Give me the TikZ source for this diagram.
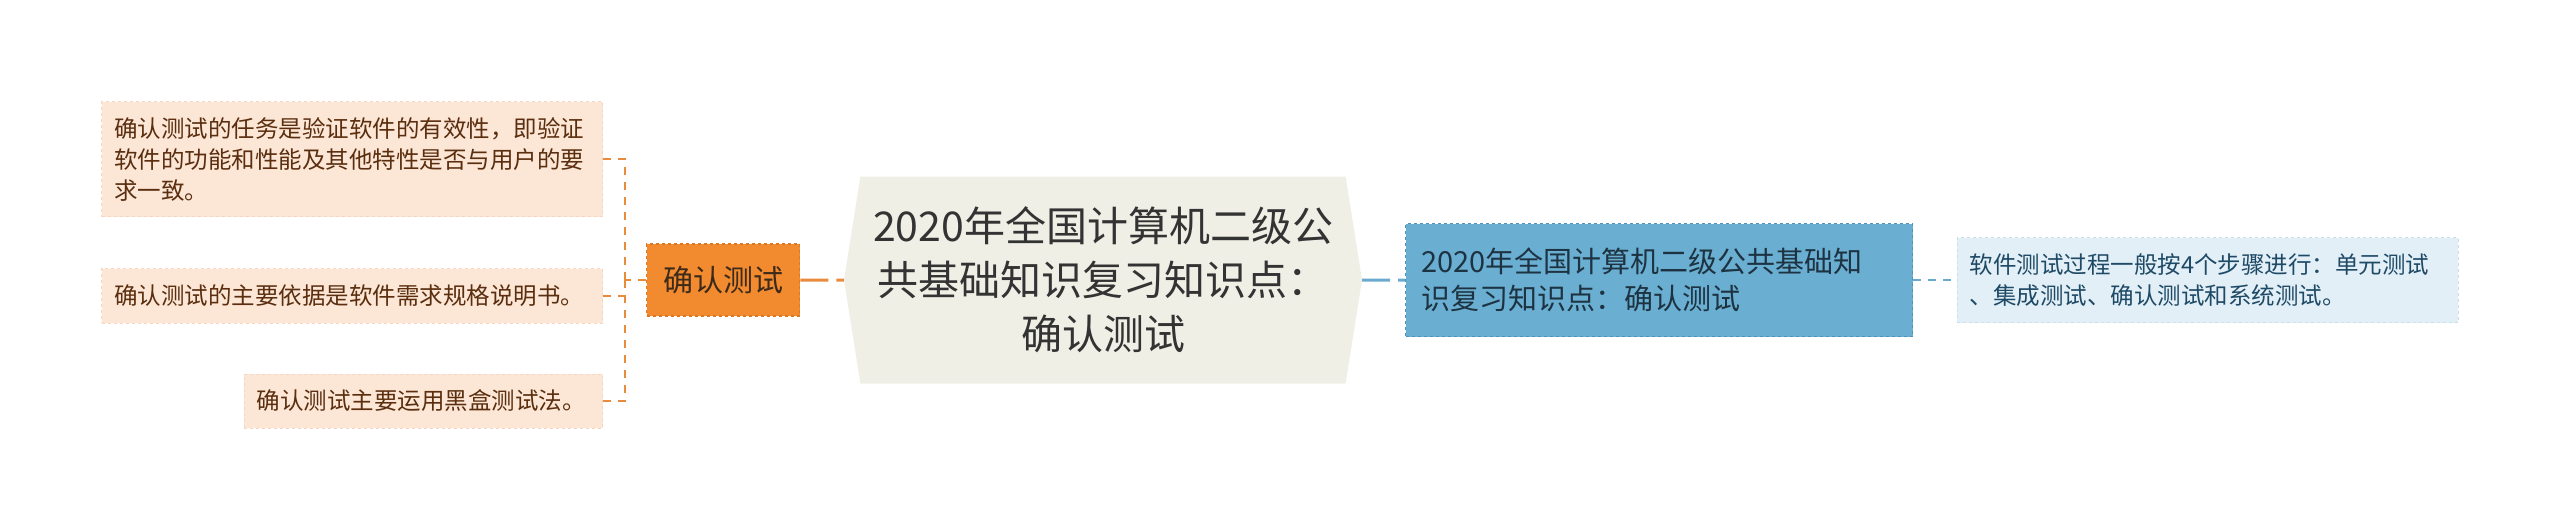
\documentclass[tikz,border=0pt]{standalone}
\usepackage{fontspec}
\usepackage{tikz}
\usetikzlibrary{shapes.symbols, arrows}
\setmainfont{Noto Sans CJK SC}
\definecolor{rootfill}{HTML}{EFEFE6}
\definecolor{roottext}{HTML}{333333}
\definecolor{subfill}{HTML}{F28B2F}
\definecolor{subdraw}{HTML}{E07820}
\definecolor{subtext}{HTML}{3D2A1A}
\definecolor{leaffill}{HTML}{FCE6D6}
\definecolor{leafdraw}{HTML}{F6D6C0}
\definecolor{leaftext}{HTML}{5A2E0E}
\definecolor{sumfill}{HTML}{6AAFD2}
\definecolor{sumdraw}{HTML}{4E93BE}
\definecolor{sumtext}{HTML}{1E3342}
\definecolor{notefill}{HTML}{E2EFF7}
\definecolor{notedraw}{HTML}{CADFEE}
\definecolor{notetext}{HTML}{1F4A66}
\definecolor{orangeline}{HTML}{E98B3D}
\definecolor{blueline}{HTML}{6AAAD0}
\tikzstyle{root} = [signal, signal to=west and east, signal pointer angle=162, minimum width=518pt, minimum height=207pt, inner sep=0pt, align=center, fill=rootfill, text=roottext, font=\fontsize{41}{54}\selectfont]
\tikzstyle{branch} = [rectangle, minimum width=153pt, minimum height=72pt, text centered, draw=subdraw, dashed, line width=1.5pt, fill=subfill, text=subtext, font=\fontsize{30}{36}\selectfont]
\tikzstyle{summary} = [rectangle, text width=475pt, inner xsep=16pt, minimum height=113pt, align=left, draw=sumdraw, dashed, line width=1.5pt, fill=sumfill, text=sumtext, font=\fontsize{29}{37}\selectfont]
\tikzstyle{leaf} = [rectangle, text width=476pt, inner xsep=12.5pt, inner ysep=0pt, align=left, draw=leafdraw, dashed, line width=1pt, fill=leaffill, text=leaftext, font=\fontsize{23.5}{31}\selectfont]
\tikzstyle{note} = [leaf, draw=notedraw, fill=notefill, text=notetext]
\tikzstyle{mainlink} = [line width=3pt, dash pattern=on 28pt off 8pt]
\tikzstyle{leaflink} = [line width=2pt, dash pattern=on 8pt off 7pt]

\begin{document}
\begin{tikzpicture}[x=1pt, y=-1pt, node distance=380pt]
		\useasboundingbox (0,0) rectangle (2560,531);
		\node (root) [root] at (1103,280) {2020年全国计算机二级公\\共基础知识复习知识点：\\确认测试};
		\node (sub) [branch, left of=root] {确认测试};
		\node (sum) [summary, right of=root, xshift=176pt] {2020年全国计算机二级公共基础知\\识复习知识点：确认测试};
		\node (note) [note, right of=sum, xshift=168.5pt, minimum height=85pt] {软件测试过程一般按4个步骤进行：单元测试\\、集成测试、确认测试和系统测试。};
		\node (leaf1) [leaf, minimum height=115pt] at (352.3,159.3) {确认测试的任务是验证软件的有效性，即验证\\软件的功能和性能及其他特性是否与用户的要\\求一致。};
		\node (leaf2) [leaf, minimum height=54.5pt] at (352.3,295.8) {确认测试的主要依据是软件需求规格说明书。};
		\node (leaf3) [leaf, text width=333.5pt, minimum height=54pt] at (423.7,401) {确认测试主要运用黑盒测试法。};
		\coordinate (split) at (625,280);
		
		\draw [mainlink, orangeline] (sub) -- (root);
		\draw [mainlink, blueline] (root) -- (sum);
		\draw [leaflink, blueline] (sum) -- (note);
		\draw [leaflink, orangeline] (sub.west) -- (split);
		\draw [leaflink, orangeline] (split) |- (leaf1.east);
		\draw [leaflink, orangeline] (split) |- (leaf2.east);
		\draw [leaflink, orangeline] (split) |- (leaf3.east);
\end{tikzpicture}
\end{document}
